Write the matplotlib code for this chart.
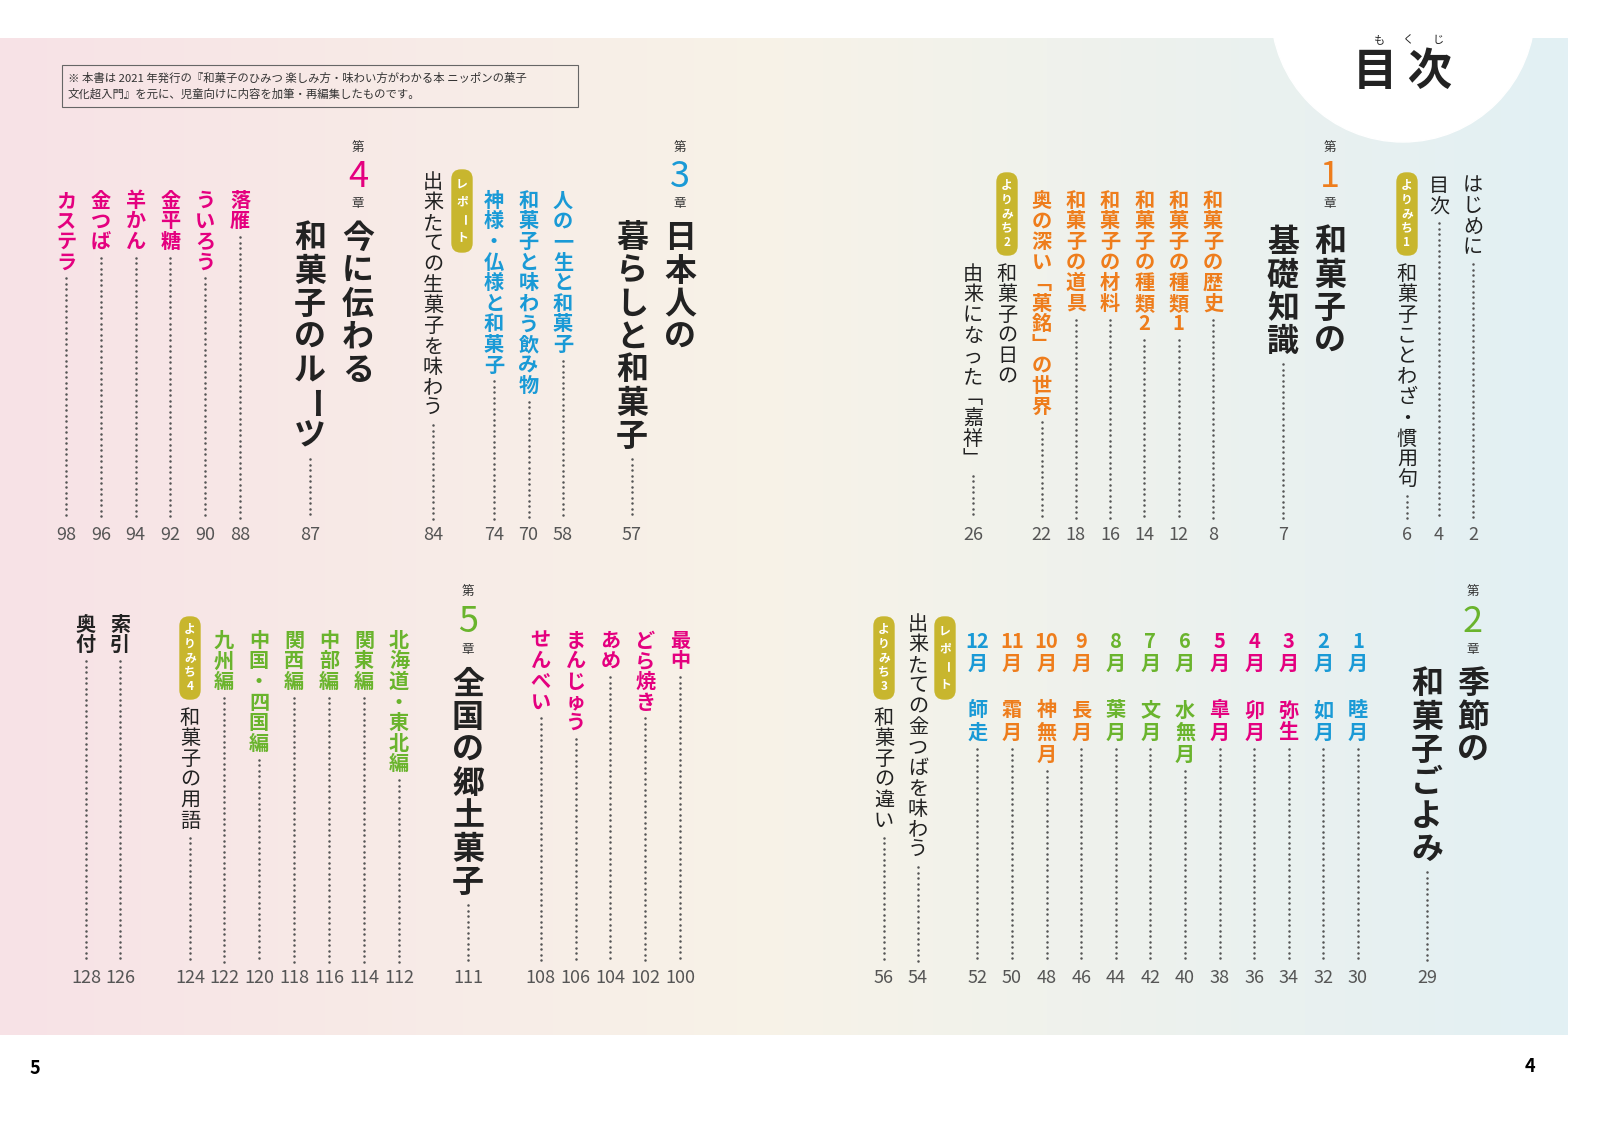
import matplotlib.pyplot as plt
import numpy as np
from matplotlib.patches import FancyBboxPatch, Circle, Rectangle

plt.rcParams['font.family'] = ['Noto Sans CJK JP', 'DejaVu Sans']

BLUE = '#1a9ad6'
MAG = '#e4007f'
ORG = '#ee7d1c'
GRN = '#6ab42d'
OLV = '#c8b62e'
GRAY = '#555555'

# ---- data ----
top_right_items = ['はじめに', '目次']
top_right_pages = [2, 4]
yori1_label, yori1_page = '和菓子ことわざ・慣用句', 6
ch1_title = ['和菓子の', '基礎知識']
ch1_page = 7
ch1_items = ['和菓子の歴史', '和菓子の種類1', '和菓子の種類2', '和菓子の材料', '和菓子の道具', '奥の深い「菓銘」の世界']
ch1_pages = [8, 12, 14, 16, 18, 22]
yori2_lines = ['和菓子の日の', '由来になった「嘉祥」']
yori2_page = 26

ch3_title = ['日本人の', '暮らしと和菓子']
ch3_page = 57
ch3_items = ['人の一生と和菓子', '和菓子と味わう飲み物', '神様・仏様と和菓子']
ch3_pages = [58, 70, 74]
report1_label, report1_page = '出来たての生菓子を味わう', 84
ch4_title = ['今に伝わる', '和菓子のルーツ']
ch4_page = 87
ch4_items = ['落雁', 'ういろう', '金平糖', '羊かん', '金つば', 'カステラ']
ch4_pages = [88, 90, 92, 94, 96, 98]

ch2_title = ['季節の', '和菓子ごよみ']
ch2_page = 29
months = ['1', '2', '3', '4', '5', '6', '7', '8', '9', '10', '11', '12']
month_names = ['睦月', '如月', '弥生', '卯月', '皐月', '水無月', '文月', '葉月', '長月', '神無月', '霜月', '師走']
month_pages = [30, 32, 34, 36, 38, 40, 42, 44, 46, 48, 50, 52]
month_colors = [BLUE, BLUE, MAG, MAG, MAG, GRN, GRN, GRN, ORG, ORG, ORG, BLUE]
report2_label, report2_page = '出来たての金つばを味わう', 54
yori3_label, yori3_page = '和菓子の違い', 56

ch5_title = ['全国の郷土菓子']
ch5_page = 111
ch5_sweets = ['最中', 'どら焼き', 'あめ', 'まんじゅう', 'せんべい']
ch5_sweet_pages = [100, 102, 104, 106, 108]
ch5_regions = ['北海道・東北編', '関東編', '中部編', '関西編', '中国・四国編', '九州編']
ch5_region_pages = [112, 114, 116, 118, 120, 122]
yori4_label, yori4_page = '和菓子の用語', 124
end_items = ['索引', '奥付']
end_pages = [126, 128]

note = ('※ 本書は 2021 年発行の『和菓子のひみつ 楽しみ方・味わい方がわかる本 ニッポンの菓子\n'
        '文化超入門』を元に、児童向けに内容を加筆・再編集したものです。')

# ---- drawing ----
fig = plt.figure(figsize=(16, 11.21), dpi=100)
ax = fig.add_axes([0, 0, 1, 1])
ax.set_xlim(0, 1600)
ax.set_ylim(1121, 0)
ax.axis('off')

# background gradient
c1 = np.array([247, 226, 230]) / 255
c2 = np.array([247, 243, 232]) / 255
c3 = np.array([226, 240, 244]) / 255
t = np.linspace(0, 1, 400)
grad = np.where(t[:, None] < 0.5, c1 + (c2 - c1) * (t[:, None] / 0.5),
                c2 + (c3 - c2) * ((t[:, None] - 0.5) / 0.5))
ax.imshow(grad[None, :, :], extent=[0, 1568, 1035, 38], aspect='auto', zorder=0)
ax.add_patch(Circle((1403, 10), 132, color='white', zorder=1))
ax.text(1403, 72, '目 次', fontsize=32, weight='bold', ha='center', va='center', color='#222222', zorder=2)
for ch, xx in zip('もくじ', [1380, 1408, 1438]):
    ax.text(xx, 40, ch, fontsize=8, ha='center', va='center', color='#222222', zorder=2)

ax.add_patch(Rectangle((62, 65), 516, 42, fill=False, ec='#666666', lw=0.8, zorder=2))
ax.text(68, 86, note, fontsize=8.2, va='center', ha='left', color='#333333', linespacing=1.5, zorder=3)

ROT = set('ー')
VERT = {'「': '﹁', '」': '﹂'}


def vtext(x, y0, s, size=14.5, color='#222222', pitch=None, weight='bold'):
    if pitch is None:
        pitch = size * 1.42
    y = y0
    i = 0
    while i < len(s):
        tok = s[i]
        if tok.isdigit():
            while i + 1 < len(s) and s[i + 1].isdigit():
                i += 1
                tok += s[i]
        rot = -90 if tok in ROT else 0
        tok = VERT.get(tok, tok)
        ax.text(x, y + pitch / 2, tok, fontsize=size, color=color, weight=weight,
                ha='center', va='center', rotation=rot, zorder=4)
        y += pitch
        i += 1
    return y


def leader(x, y1, y2):
    if y2 - y1 > 8:
        ys = np.arange(y1 + 6, y2, 5.5)
        ax.plot(np.full_like(ys, x), ys, ls='none', marker='.', ms=1.6, color='#555555', zorder=3)


def page(x, y, n):
    ax.text(x, y, str(n), fontsize=13, color=GRAY, ha='center', va='center', zorder=4)


def entry(x, y0, s, n, color='#222222', py=535, weight='bold'):
    end = vtext(x, y0, s, color=color, weight=weight)
    leader(x, end, py - 16)
    page(x, py, n)


def badge(x, y0, s, h=82):
    ax.add_patch(FancyBboxPatch((x - 10, y0), 20, h, boxstyle='round,pad=0,rounding_size=9',
                                color=OLV, zorder=3))
    vtext(x, y0 + 6, s, size=8.5, color='white', pitch=(h - 12) / len(s))


def chapter(x, y, num, color):
    ax.text(x, y, '第', fontsize=9, color='#333333', ha='center', va='center', zorder=4)
    ax.text(x, y + 30, num, fontsize=26, color=color, ha='center', va='center', zorder=4)
    ax.text(x, y + 57, '章', fontsize=9, color='#333333', ha='center', va='center', zorder=4)


# top right page
for k, (s, n) in enumerate(zip(top_right_items, top_right_pages)):
    entry(1473 - 34 * k, 176, s, n, weight='normal')
badge(1407, 173, 'よりみち1')
entry(1407, 264, yori1_label, yori1_page, weight='normal')
chapter(1330, 147, '1', ORG)
vtext(1330, 226, ch1_title[0], size=23, pitch=33)
end = vtext(1283, 226, ch1_title[1], size=23, pitch=33)
leader(1283, end, 519)
page(1283, 535, ch1_page)
for k, (s, n) in enumerate(zip(ch1_items, ch1_pages)):
    entry(1213 - 34.3 * k, 190, s, n, color=ORG)
badge(1007, 173, 'よりみち2')
vtext(1007, 264, yori2_lines[0], weight='normal')
entry(973, 264, yori2_lines[1], yori2_page, weight='normal')

# top left page
chapter(680, 147, '3', BLUE)
vtext(680, 222, ch3_title[0], size=23, pitch=33)
end = vtext(632, 222, ch3_title[1], size=23, pitch=33)
leader(632, end, 519)
page(632, 535, ch3_page)
for k, (s, n) in enumerate(zip(ch3_items, ch3_pages)):
    entry(563 - 34.5 * k, 190, s, n, color=BLUE)
badge(462, 170, 'レポート')
entry(433, 172, report1_label, report1_page, weight='normal')
chapter(358, 147, '4', MAG)
vtext(358, 222, ch4_title[0], size=23, pitch=33)
end = vtext(310, 222, ch4_title[1], size=23, pitch=33)
leader(310, end, 519)
page(310, 535, ch4_page)
for k, (s, n) in enumerate(zip(ch4_items, ch4_pages)):
    entry(240 - 34.8 * k, 190, s, n, color=MAG)

# bottom right page
BY = 978
chapter(1473, 592, '2', GRN)
vtext(1473, 668, ch2_title[0], size=23, pitch=33)
end = vtext(1427, 668, ch2_title[1], size=23, pitch=33)
leader(1427, end, BY - 16)
page(1427, BY, ch2_page)
for k in range(12):
    x = 1358 - 34.6 * k
    vtext(x, 630, months[k] + '月', color=month_colors[k], pitch=22)
    end = vtext(x, 699, month_names[k], color=month_colors[k], pitch=22)
    leader(x, end, BY - 16)
    page(x, BY, month_pages[k])
badge(945, 617, 'レポート')
entry(918, 614, report2_label, report2_page, py=BY, weight='normal')
badge(884, 617, 'よりみち3')
entry(884, 708, yori3_label, yori3_page, py=BY, weight='normal')

# bottom left page
for k, (s, n) in enumerate(zip(ch5_sweets, ch5_sweet_pages)):
    entry(680 - 34.8 * k, 630, s, n, color=MAG, py=BY)
chapter(468, 592, '5', GRN)
end = vtext(468, 668, ch5_title[0], size=23, pitch=33)
leader(468, end, BY - 16)
page(468, BY, ch5_page)
for k, (s, n) in enumerate(zip(ch5_regions, ch5_region_pages)):
    entry(399 - 35 * k, 630, s, n, color=GRN, py=BY)
badge(190, 617, 'よりみち4')
entry(190, 708, yori4_label, yori4_page, py=BY, weight='normal')
for k, (s, n) in enumerate(zip(end_items, end_pages)):
    entry(120 - 34 * k, 614, s, n, py=BY)

ax.text(35, 1068, '5', fontsize=13, weight='bold', ha='center', va='center')
ax.text(1530, 1066, '4', fontsize=13, weight='bold', ha='center', va='center')

fig.savefig('out.png', dpi=100)
